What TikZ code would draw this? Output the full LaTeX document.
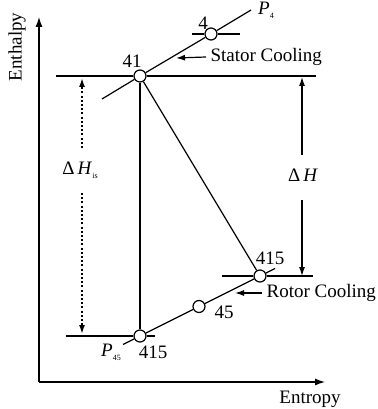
\documentclass[tikz,border=0pt]{standalone}
\usepackage{fontspec}
\setmainfont{Liberation Serif}
\usetikzlibrary{arrows.meta}

\begin{document}
\begin{tikzpicture}[x=1pt,y=-1pt,line width=1.2pt,
  font=\fontsize{19}{21}\selectfont,
  st/.style={circle,draw,fill=white,inner sep=0pt,minimum size=12pt},
  ax/.style={-{Latex[length=10pt,width=7pt]}},
  ar/.style={-{Latex[length=9pt,width=6pt]}},
  dt/.style={ar,line width=1.6pt,dash pattern=on 2pt off 2.2pt},
  lb/.style={inner sep=0pt}]
\useasboundingbox (0,0) rectangle (377,409);
% axes
\coordinate (org) at (39,382);
\coordinate (ytop) at (39,17);
\coordinate (xend) at (325,382);
\draw[ax] (org) -- (ytop);
\draw[ax] (org) -- (xend);
\node[lb,rotate=90] (ylab) at (17,47) {Enthalpy};
\node[lb] (xlab) at (310,399) {Entropy};
% states
\node[st] (s41) at (140,76) {};
\node[st] (s4) at (211,34) {};
\node[st] (s415u) at (260,276) {};
\node[st] (s45) at (199,306.5) {};
\node[st] (s415) at (140,336) {};
% isobars and enthalpy levels
\coordinate (p4lo) at (102,99);
\coordinate (p4hi) at (251,10);
\coordinate (p45lo) at (123,344.5);
\coordinate (p45hi) at (275,268.5);
\coordinate (h4l) at (192,34);
\coordinate (h4r) at (240,34);
\coordinate (h41l) at (56,76);
\coordinate (h41r) at (316,76);
\coordinate (h415l) at (66,336);
\coordinate (h415r) at (155,336);
\coordinate (hul) at (222,276);
\coordinate (hur) at (313,276);
\draw (h41l) -- (s41) -- (h41r);
\draw (h4l) -- (s4) -- (h4r);
\draw (h415l) -- (s415) -- (h415r);
\draw (hul) -- (s415u) -- (hur);
\draw (p4lo) -- (s41) -- (s4) -- (p4hi);
\draw (p45lo) -- (s415) -- (s45) -- (s415u) -- (p45hi);
\draw (s41) -- (s415);
\draw (s41) -- (s415u);
% labels
\node[lb] (l41) at (132,61) {41};
\node[lb] (l4) at (203,23) {4};
\node[lb] (l415u) at (270,258) {415};
\node[lb] (l45) at (224,312) {45};
\node[lb] (l415) at (153,352) {415};
\node[lb] (lp4) at (266,10) {\textit{P}\raisebox{-4pt}{\fontsize{8}{8}\selectfont 4}};
\node[lb] (lp45) at (111,352) {\textit{P}\raisebox{-4pt}{\fontsize{8}{8}\selectfont 45}};
% cooling flows
\node[lb,anchor=west] (stc) at (210,57) {Stator Cooling};
\node[lb,anchor=west] (rtc) at (266,293) {Rotor Cooling};
\coordinate (stt) at (176,58);
\coordinate (rtt) at (235,293);
\draw[ar] ([xshift=-4pt]stc.west) -- (stt);
\draw[ar] ([xshift=-4pt]rtc.west) -- (rtt);
% enthalpy differences
\node[lb] (dh) at (303,175) {Δ\,\textit{H}};
\node[lb] (dhis) at (80,170) {Δ\,\textit{H}\raisebox{-4pt}{\fontsize{8}{8}\selectfont is}};
\coordinate (dhu) at (302,77);
\coordinate (dhd) at (302,276);
\coordinate (dhisu) at (82,78);
\coordinate (dhisd) at (82,334);
\draw[ar] (302,155) -- (dhu);
\draw[ar] (302,200) -- (dhd);
\draw[dt] (82,148) -- (dhisu);
\draw[dt] (82,193) -- (dhisd);
\end{tikzpicture}
\end{document}
